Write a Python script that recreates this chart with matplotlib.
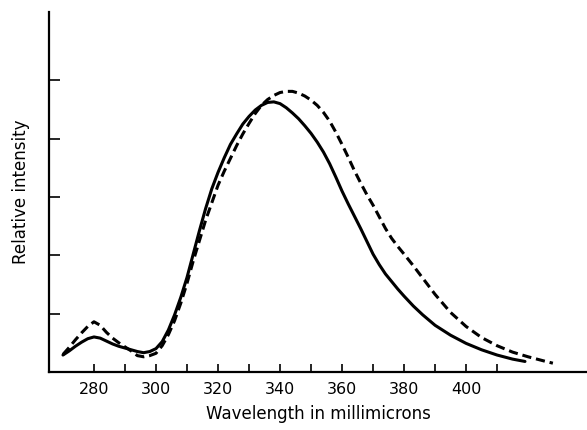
import numpy as np
import matplotlib
matplotlib.use("Agg")
import matplotlib.pyplot as plt

# solid curve
wl_solid = [270, 272, 274, 276, 278, 280, 282, 284, 286, 288, 290, 292, 294,
            296, 298, 300, 302, 304, 306, 308, 310, 312, 314, 316, 318, 320,
            322, 324, 326, 328, 330, 332, 334, 336, 338, 340, 342, 344, 346,
            348, 350, 352, 354, 356, 358, 360, 362, 364, 366, 368, 370, 372,
            374, 376, 378, 380, 383, 386, 390, 395, 400, 405, 410, 415, 419]
int_solid = [0.29, 0.36, 0.44, 0.51, 0.57, 0.60, 0.58, 0.53, 0.48, 0.44, 0.41,
             0.38, 0.35, 0.33, 0.35, 0.40, 0.52, 0.72, 0.98, 1.28, 1.62, 2.02,
             2.42, 2.80, 3.14, 3.42, 3.67, 3.90, 4.08, 4.25, 4.38, 4.49, 4.57,
             4.62, 4.63, 4.60, 4.53, 4.44, 4.34, 4.22, 4.09, 3.94, 3.77, 3.57,
             3.34, 3.10, 2.88, 2.67, 2.46, 2.24, 2.02, 1.84, 1.68, 1.55, 1.42,
             1.30, 1.13, 0.98, 0.80, 0.63, 0.49, 0.38, 0.29, 0.22, 0.18]

# dashed curve
wl_dash = [270, 272, 274, 276, 278, 280, 282, 284, 286, 288, 290, 292, 294,
           296, 298, 300, 302, 304, 306, 308, 310, 312, 314, 316, 318, 320,
           322, 324, 326, 328, 330, 332, 334, 336, 338, 340, 342, 344, 346,
           348, 350, 352, 354, 356, 358, 360, 362, 364, 366, 368, 370, 372,
           374, 376, 378, 380, 383, 386, 390, 395, 400, 405, 410, 415, 420,
           425, 428]
int_dash = [0.30, 0.42, 0.55, 0.67, 0.78, 0.86, 0.80, 0.68, 0.58, 0.50, 0.43,
            0.36, 0.28, 0.26, 0.28, 0.32, 0.45, 0.64, 0.88, 1.18, 1.52, 1.90,
            2.25, 2.60, 2.90, 3.20, 3.44, 3.66, 3.88, 4.08, 4.26, 4.43, 4.57,
            4.67, 4.74, 4.79, 4.81, 4.81, 4.78, 4.73, 4.66, 4.57, 4.45, 4.30,
            4.11, 3.90, 3.68, 3.45, 3.24, 3.04, 2.86, 2.66, 2.46, 2.29, 2.15,
            2.02, 1.82, 1.61, 1.33, 1.02, 0.78, 0.59, 0.45, 0.34, 0.26, 0.19,
            0.15]

xticks_major = [280, 300, 320, 340, 360, 380, 400]
xticks_all = list(range(280, 420, 10))
yticks = [1, 2, 3, 4, 5]

fig = plt.figure(figsize=(5.87, 4.30), dpi=100)
ax = fig.add_axes([0.0835, 0.135, 0.9165, 0.837])

ax.plot(wl_solid, int_solid, color="black", lw=2.2, solid_capstyle="round",
        solid_joinstyle="round")
ax.plot(wl_dash, int_dash, color="black", lw=2.2, dashes=(3, 1.6))

ax.set_xlim(265.5, 439)
ax.set_ylim(0, 6.17)

ax.spines["top"].set_visible(False)
ax.spines["right"].set_visible(False)
ax.spines["left"].set_linewidth(1.6)
ax.spines["bottom"].set_linewidth(1.6)

ax.set_xticks(xticks_all, minor=True)
ax.set_xticks(xticks_major)
ax.set_xticklabels([str(v) for v in xticks_major], fontsize=11.5)
ax.tick_params(axis="x", which="both", direction="in", length=6, width=1.2,
               pad=7)
ax.set_yticks(yticks)
ax.set_yticklabels([])
ax.tick_params(axis="y", direction="in", length=8, width=1.2)

ax.set_xlabel("Wavelength in millimicrons", fontsize=12, labelpad=6)
ax.set_ylabel("Relative intensity", fontsize=12, labelpad=10)

fig.savefig("out.png", dpi=100)
